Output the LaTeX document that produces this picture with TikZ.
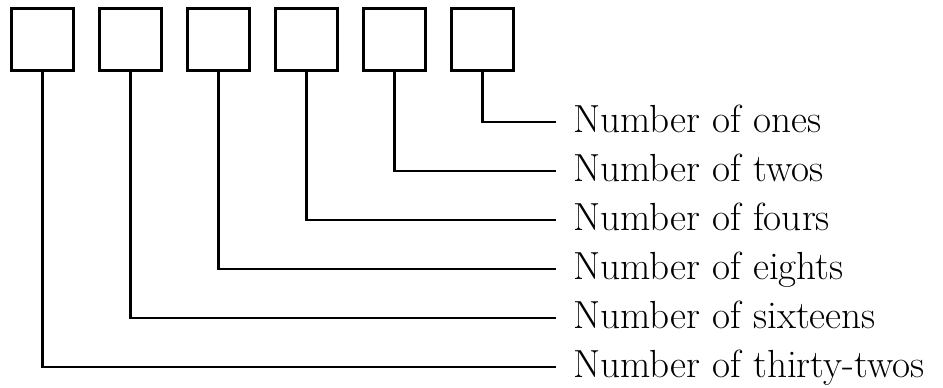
\documentclass[tikz,border=0pt]{standalone}
\usepackage{fontspec}
\usepackage{tikz}
\usetikzlibrary{positioning}

\begin{document}
\begin{tikzpicture}[x=0.5pt, y=-0.5pt, line width=1.4pt,
  digit/.style={draw, minimum size=31pt, inner sep=0pt},
  place/.style={anchor=west, inner xsep=8pt, inner ysep=0pt,
    text height=11pt, text depth=0.4pt, font=\fontsize{19.6}{24}\selectfont}]
  \useasboundingbox (0,0) rectangle (943,387);
  % one box per binary digit, each tied to its label
  \foreach \name [count=\i] in {thirty-twos,sixteens,eights,fours,twos,ones} {
    \node[digit] (d\i) at ({42.5+88*(\i-1)},39.5) {};
    \node[place] (n\i) at (556,{367-49*(\i-1)}) {Number of \name};
    \draw (d\i.south) |- (n\i.west);
  }
\end{tikzpicture}
\end{document}
